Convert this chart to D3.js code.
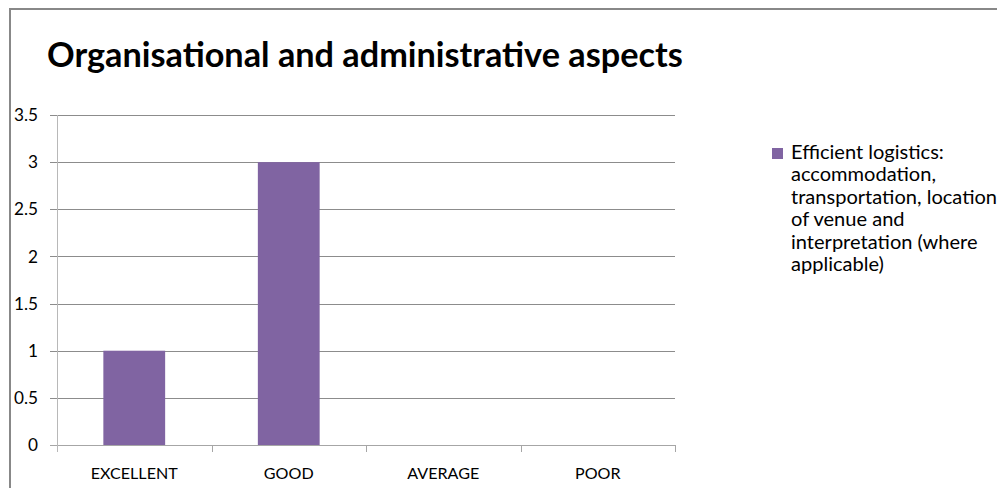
<!DOCTYPE html>
<html>
<head>
<meta charset="utf-8">
<script src="https://cdn.jsdelivr.net/npm/d3@7"></script>
<style>
  html, body { margin: 0; padding: 0; background: #fff; overflow: hidden; }
  svg { display: block; font-family: Lato, "Open Sans", "Noto Sans", sans-serif; }
</style>
</head>
<body>
<svg id="chart" width="997" height="488"></svg>
<script>
const title = "Organisational and administrative aspects";
const categories = ["EXCELLENT", "GOOD", "AVERAGE", "POOR"];
const seriesName = "Efficient logistics: accommodation, transportation, location of venue and interpretation (where applicable)";
const legendLines = ["Efficient logistics:", "accommodation,", "transportation, location", "of venue and", "interpretation (where", "applicable)"];
const values = [1, 3, 0, 0];
const yTicks = [0, 0.5, 1, 1.5, 2, 2.5, 3, 3.5];

const svg = d3.select("#chart");
const barColor = "#8064A2";

// fit a font size so that a sample string reaches a target width
function fitSize(sample, targetW, weight) {
  const tmp = svg.append("text").attr("font-size", 20)
    .attr("font-weight", weight || "normal").text(sample);
  const w = tmp.node().getComputedTextLength();
  tmp.remove();
  return 20 * targetW / w;
}

// outer frame (cut at right/bottom)
svg.append("rect")
  .attr("x", 10).attr("y", 9)
  .attr("width", 996).attr("height", 490)
  .attr("fill", "#fff").attr("stroke", "#888").attr("stroke-width", 2);

// title
svg.append("text")
  .attr("x", 47).attr("y", 67)
  .attr("font-weight", "bold")
  .attr("font-size", fitSize(title, 636, "bold"))
  .attr("fill", "#000")
  .text(title);

const plot = { left: 57, right: 675, top: 115, bottom: 445 };

const x = d3.scaleBand()
  .domain(categories)
  .range([plot.left, plot.right])
  .paddingInner(0.6).paddingOuter(0.3);
const xb = d3.scaleBand().domain(categories).range([plot.left, plot.right]);

const y = d3.scaleLinear().domain([0, 3.5]).range([plot.bottom, plot.top]);

// gridlines + y tick marks
svg.append("g").selectAll("line").data(yTicks).join("line")
  .attr("x1", plot.left - 7).attr("x2", plot.right)
  .attr("y1", d => Math.round(y(d)) + 0.5).attr("y2", d => Math.round(y(d)) + 0.5)
  .attr("stroke", d => d === 0 ? "#a6a6a6" : "#8c8c8c").attr("stroke-width", 1);

// y axis line
svg.append("line")
  .attr("x1", plot.left + 0.5).attr("x2", plot.left + 0.5)
  .attr("y1", plot.top).attr("y2", plot.bottom + 7)
  .attr("stroke", "#b8b8b8");

// y labels
const ySize = fitSize("3.5", 24);
svg.append("g").selectAll("text").data(yTicks).join("text")
  .attr("x", 38).attr("y", d => y(d) + ySize * 0.36)
  .attr("text-anchor", "end")
  .attr("font-size", ySize).attr("fill", "#000")
  .text(d => d);

// bars
svg.append("g").selectAll("rect").data(categories).join("rect")
  .attr("x", d => x(d))
  .attr("width", x.bandwidth())
  .attr("y", (d, i) => y(values[i]))
  .attr("height", (d, i) => y(0) - y(values[i]))
  .attr("fill", barColor);

// x axis tick marks at band edges
const edges = categories.map(c => xb(c)).concat([plot.right]);
svg.append("g").selectAll("line").data(edges.slice(1)).join("line")
  .attr("x1", d => Math.round(d) + 0.5).attr("x2", d => Math.round(d) + 0.5)
  .attr("y1", plot.bottom).attr("y2", plot.bottom + 7)
  .attr("stroke", "#a6a6a6");

// x labels
const xSize = fitSize("EXCELLENT", 87);
svg.append("g").selectAll("text").data(categories).join("text")
  .attr("x", d => xb(d) + xb.bandwidth() / 2)
  .attr("y", 479)
  .attr("text-anchor", "middle")
  .attr("font-size", xSize).attr("fill", "#000")
  .text(d => d);

// legend
svg.append("rect")
  .attr("x", 772).attr("y", 148).attr("width", 11).attr("height", 11)
  .attr("fill", barColor);
const lSize = fitSize("Efficient logistics:", 153);
svg.append("g").selectAll("text").data(legendLines).join("text")
  .attr("x", 791)
  .attr("y", (d, i) => 159 + i * 22.4)
  .attr("font-size", lSize).attr("fill", "#000")
  .text(d => d);
</script>
</body>
</html>
